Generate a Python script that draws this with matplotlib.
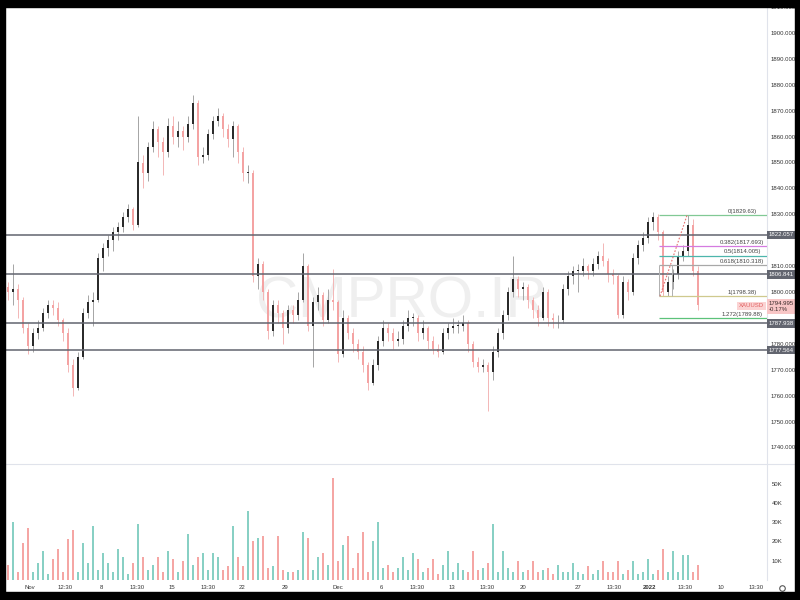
import numpy as np
import matplotlib
matplotlib.use("Agg")
import matplotlib.pyplot as plt
import matplotlib.transforms as mtransforms
from matplotlib.patches import Rectangle
from matplotlib.lines import Line2D

# XAUUSD candles (one candle every 5 px)
first_open = 1802
closes = [
    1800, 1801, 1797, 1786, 1779, 1784, 1786, 1792, 1795, 1794,
    1789, 1784, 1772, 1763, 1775, 1792, 1796, 1797, 1813, 1817,
    1820, 1823, 1825, 1829, 1832, 1826, 1850, 1846, 1856, 1863,
    1858, 1854, 1864, 1860, 1862, 1860, 1865, 1873, 1852, 1853,
    1861, 1866, 1868, 1863, 1859, 1864, 1854, 1846, 1846, 1806,
    1811, 1800, 1785, 1795, 1792, 1786, 1793, 1791, 1797, 1810,
    1787, 1796, 1799, 1789, 1797, 1796, 1776, 1790, 1784, 1780,
    1777, 1772, 1765, 1772, 1781, 1786, 1784, 1781, 1782, 1787,
    1790, 1790, 1784, 1786, 1781, 1778, 1777, 1784, 1786, 1787,
    1787, 1788, 1780, 1773, 1771, 1772, 1769, 1777, 1784, 1791,
    1800, 1805, 1801, 1802, 1797, 1793, 1790, 1800, 1790, 1789,
    1789, 1801, 1806, 1808, 1808, 1810, 1808, 1811, 1814, 1812,
    1807, 1806, 1791, 1804, 1800, 1813, 1818, 1821, 1827, 1829,
    1823, 1800, 1804, 1807, 1814, 1816, 1826, 1808, 1794.995,
]
highs = [
    1804, 1811, 1803, 1798, 1788, 1786, 1789, 1794, 1797, 1797,
    1796, 1790, 1786, 1774, 1777, 1794, 1799, 1800, 1815, 1819,
    1822, 1825, 1827, 1831, 1834, 1833, 1868, 1853, 1858, 1866,
    1864, 1860, 1867, 1868, 1866, 1864, 1868, 1876, 1874, 1856,
    1863, 1868, 1871, 1869, 1865, 1866, 1865, 1856, 1849, 1847,
    1813, 1812, 1801, 1797, 1797, 1793, 1795, 1795, 1800, 1815,
    1811, 1798, 1802, 1800, 1801, 1809, 1797, 1793, 1791, 1786,
    1782, 1779, 1773, 1774, 1783, 1789, 1788, 1786, 1785, 1789,
    1793, 1792, 1791, 1789, 1787, 1783, 1780, 1786, 1788, 1790,
    1789, 1791, 1789, 1781, 1775, 1774, 1773, 1779, 1786, 1793,
    1802, 1814, 1806, 1804, 1803, 1798, 1795, 1802, 1801, 1792,
    1791, 1803, 1808, 1810, 1811, 1813, 1811, 1813, 1816, 1819,
    1813, 1809, 1807, 1806, 1805, 1815, 1820, 1823, 1829, 1831,
    1830, 1824, 1806, 1809, 1816, 1818, 1829.6, 1828, 1810,
]
lows = [
    1797, 1795, 1790, 1784, 1776, 1777, 1782, 1785, 1790, 1791,
    1787, 1781, 1769, 1760, 1762, 1774, 1790, 1787, 1796, 1808,
    1814, 1816, 1820, 1823, 1827, 1824, 1825, 1840, 1843, 1854,
    1852, 1845, 1852, 1857, 1856, 1855, 1858, 1863, 1849, 1850,
    1851, 1859, 1864, 1860, 1856, 1852, 1850, 1843, 1842, 1804,
    1801, 1797, 1782, 1783, 1788, 1780, 1784, 1788, 1789, 1796,
    1785, 1771, 1793, 1787, 1788, 1793, 1773, 1775, 1782, 1777,
    1774, 1769, 1762, 1764, 1770, 1779, 1781, 1778, 1779, 1780,
    1785, 1787, 1781, 1782, 1778, 1776, 1775, 1776, 1782, 1784,
    1784, 1785, 1777, 1771, 1769, 1769, 1754, 1766, 1775, 1782,
    1789, 1798, 1798, 1797, 1794, 1790, 1787, 1789, 1787, 1786,
    1786, 1788, 1799, 1803, 1800, 1806, 1805, 1806, 1809, 1810,
    1804, 1803, 1790, 1790, 1797, 1799, 1811, 1816, 1819, 1824,
    1820, 1798.4, 1798.6, 1801, 1805, 1812, 1814, 1806, 1793,
]
# volume in thousands
volumes = [
    8, 30, 4, 19, 27, 4, 9, 15, 3, 11,
    16, 4, 21, 26, 4, 19, 9, 28, 5, 14,
    9, 4, 16, 12, 3, 9, 29, 12, 5, 8,
    12, 4, 15, 11, 4, 10, 24, 8, 12, 14,
    5, 14, 12, 5, 7, 28, 12, 7, 36, 20,
    22, 23, 6, 7, 23, 5, 4, 4, 5, 25,
    22, 5, 12, 14, 8, 53, 10, 18, 23, 6,
    14, 25, 4, 20, 30, 6, 8, 4, 6, 12,
    5, 14, 11, 4, 6, 11, 3, 8, 15, 4,
    9, 5, 4, 15, 5, 6, 9, 29, 4, 15,
    6, 4, 10, 4, 5, 10, 4, 5, 6, 3,
    8, 4, 4, 9, 4, 3, 7, 3, 5, 10,
    4, 4, 10, 3, 5, 10, 3, 4, 11, 3,
    5, 16, 4, 15, 4, 13, 13, 4, 8,
]

levels = [1822.057, 1806.841, 1787.938, 1777.564]
fib_ratios = ["0", "0.382", "0.5", "0.618", "1", "1.272"]
fib_prices = [1829.63, 1817.693, 1814.005, 1810.318, 1798.38, 1789.88]
fib_colors = ["#81c995", "#d57be0", "#4db6ac", "#a8a8a8", "#cfc98e", "#5cc27a"]
last_price = 1794.995
last_change = "-0.17%"

price_ticks = [1910, 1900, 1890, 1880, 1870, 1860, 1850, 1840, 1830,
               1810, 1800, 1780, 1770, 1760, 1750, 1740]
vol_ticks = [10, 20, 30, 40, 50]
time_labels = ["Nov", "12:30", "8", "13:30", "15", "13:30", "22", "29", "Dec", "6",
               "13:30", "13", "13:30", "20", "27", "13:30", "2022", "13:30", "10", "13:30"]
time_px = [30, 65, 101, 137, 172, 208, 242, 285, 338, 381,
           417, 452, 487, 523, 578, 614, 650, 685, 721, 756]

plt.rcParams["font.family"] = ["Liberation Sans", "DejaVu Sans"]
FS = 4.3

W, H = 800, 600


def fx(px):
    return px / W


def fy(py):
    return 1 - py / H


def px_to_idx(px):
    # candle 0 sits at pixel 8, 5 px per candle
    return (px - 8) / 5.0


PL, PR = 5, 767
PT, PB = 7, 463
VT, VB = 465, 580

fig = plt.figure(figsize=(8, 6), dpi=100, facecolor="white")
ax = fig.add_axes([fx(PL), fy(PB), fx(PR) - fx(PL), fy(PT) - fy(PB)])
axv = fig.add_axes([fx(PL), fy(VB), fx(PR) - fx(PL), fy(VT) - fy(VB)])

x = np.arange(len(closes))
c = np.array(closes, dtype=float)
o = np.array([first_open] + closes[:-1], dtype=float)
hi = np.array(highs, dtype=float)
lo = np.array(lows, dtype=float)
up = c >= o

body_col = np.where(up, "#2b2b2b", "#f4a3a3")
wick_col = np.where(up, "#a5a5a5", "#f3b6b6")
ax.vlines(x, lo, hi, colors=wick_col, lw=0.7, zorder=2)
ax.bar(x, np.maximum(np.abs(c - o), 0.35), bottom=np.minimum(o, c),
       width=0.45, color=body_col, zorder=3, linewidth=0)

# watermark
ax.text(fx(402), fy(318), "CMPRO.IR", transform=fig.transFigure, ha="center",
        va="baseline", fontsize=42, color="#efefef", zorder=0.5)

for lv in levels:
    ax.axhline(lv, color="#62656f", lw=1.1, zorder=4)

# fib retracement
x0 = px_to_idx(659)
x1 = px_to_idx(767)
for r, p, col in zip(fib_ratios, fib_prices, fib_colors):
    ax.hlines(p, x0, x1, colors=col, lw=0.9, zorder=4)
    ax.text(px_to_idx(742), p + 0.5, f"{r}({p})", ha="center", va="bottom",
            fontsize=FS, color="#444444", zorder=6)
ax.vlines([x0, px_to_idx(672)], fib_prices[4], fib_prices[3], colors="#b0b0b0", lw=0.7, zorder=4)
ax.plot([px_to_idx(660), px_to_idx(687)], [fib_prices[4], fib_prices[0]],
        ls=(0, (1.5, 1.5)), color="#e57373", lw=0.8, zorder=5)

ax.set_xlim(px_to_idx(PL), px_to_idx(PR))
ax.set_ylim(1900 + (33 - PB) / 2.59, 1900 + (33 - PT) / 2.59)
ax.set_xticks([])
ax.yaxis.tick_right()
ax.set_yticks(price_ticks)
ax.set_yticklabels([f"{t:.3f}" for t in price_ticks])
ax.tick_params(axis="y", length=0, pad=2.2, labelsize=FS, labelcolor="#333333")
for s in ["top", "left", "bottom"]:
    ax.spines[s].set_visible(False)
ax.spines["right"].set_color("#e0e3eb")
ax.spines["right"].set_linewidth(0.8)
ax.set_facecolor("none")

# labels on the price scale
blend = mtransforms.blended_transform_factory(ax.transAxes, ax.transData)
for lv in levels:
    ax.annotate(f"{lv:.3f}", xy=(1, lv), xycoords=blend, xytext=(2, 0),
                textcoords="offset pixels", ha="left", va="center", fontsize=FS,
                color="white", annotation_clip=False, zorder=10,
                bbox=dict(boxstyle="square,pad=0.3", fc="#62656f", ec="none"))
ax.annotate(f"{last_price:.3f}\n{last_change}", xy=(1, last_price), xycoords=blend,
            xytext=(2, 4), textcoords="offset pixels", ha="left", va="top",
            fontsize=FS, color="#3a2a2a", annotation_clip=False, zorder=10,
            linespacing=1.3,
            bbox=dict(boxstyle="square,pad=0.3", fc="#f8c6c6", ec="none"))
ax.annotate("XAUUSD", xy=(1, last_price), xycoords=blend, xytext=(-3, -1),
            textcoords="offset pixels", ha="right", va="center", fontsize=FS,
            color="#e06060", annotation_clip=False, zorder=10,
            bbox=dict(boxstyle="square,pad=0.3", fc="#fbd3d3", ec="none"))

# volume pane
vcol = np.where(up, "#88d0c4", "#f5a6a4")
axv.bar(x, np.array(volumes) * 1000, width=0.55, color=vcol, linewidth=0)
axv.set_xlim(px_to_idx(PL), px_to_idx(PR))
axv.set_ylim(0, (VB - VT) / 19.3 * 10000)
axv.yaxis.tick_right()
axv.set_yticks([v * 1000 for v in vol_ticks])
axv.set_yticklabels([f"{v}K" for v in vol_ticks])
axv.tick_params(axis="y", length=0, pad=3.2, labelsize=FS, labelcolor="#333333")
axv.set_xticks([px_to_idx(p) for p in time_px])
axv.set_xticklabels(time_labels)
axv.tick_params(axis="x", length=0, pad=3.5, labelsize=FS, labelcolor="#333333")
for lab in axv.get_xticklabels():
    if lab.get_text() == "2022":
        lab.set_fontweight("bold")
for s in ["top", "left", "bottom"]:
    axv.spines[s].set_visible(False)
axv.spines["right"].set_color("#e0e3eb")
axv.spines["right"].set_linewidth(0.8)
axv.set_facecolor("none")

# pane divider and settings icon
fig.add_artist(Line2D([fx(PL), fx(795)], [fy(464), fy(464)], color="#e0e3eb", lw=0.8))
fig.add_artist(Line2D([fx(782)], [fy(588)], marker="o", ms=4, mfc="white",
                      mec="#555555", mew=0.8))

# black screen border
for (x_, y_, w_, h_) in [(0, 0, 800, 7), (0, 0, 5, 600), (795, 0, 5, 600), (0, 592, 800, 8)]:
    fig.add_artist(Rectangle((fx(x_), fy(y_ + h_)), w_ / W, h_ / H,
                             transform=fig.transFigure, color="black", zorder=20))

fig.savefig("out.png", dpi=100, facecolor="white")
